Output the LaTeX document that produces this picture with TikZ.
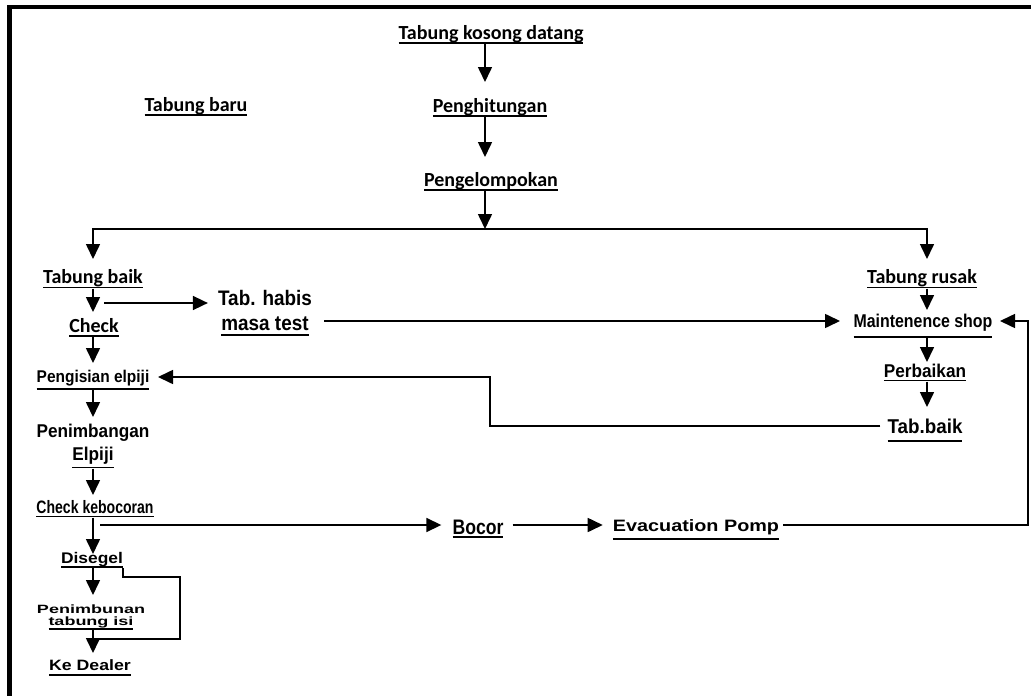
\documentclass[tikz,border=0pt]{standalone}
\usepackage{fontspec}
\setmainfont{Liberation Sans}
\newfontfamily\calb{Carlito}
\usetikzlibrary{arrows.meta,calc}
\newcommand\ul[2][4]{\leavevmode\setbox0\hbox{#2}\rlap{\rule[\dimexpr-#1pt-0.9pt\relax]{\wd0}{1.8pt}}\box0}
\newcommand\cf[1]{\calb\bfseries\fontsize{#1}{#1}\selectfont}
\newcommand\af[3]{\fontsize{#1}{#2}\selectfont\bfseries\addfontfeature{FakeStretch=#3}}
\begin{document}
\begin{tikzpicture}[x=1pt,y=-1pt,
  lab/.style={inner sep=0pt,anchor=base},
  mlab/.style={inner sep=0pt,anchor=base,align=center},
  ln/.style={line width=1.6pt},
  arr/.style={line width=1.6pt,-{Triangle[length=15pt,width=14pt]}}]
\useasboundingbox (0,0) rectangle (1031,696);
% frame
\draw[line width=4.6pt] (9.5,696) -- (9.5,7) -- (1031,7);
% nodes
\node[lab,font=\cf{20}] (tkd) at (491,39) {\ul{Tabung kosong datang}};
\node[lab,font=\cf{20}] (pgh) at (490,112) {\ul{Penghitungan}};
\node[lab,font=\cf{20}] (pgk) at (491,186) {\ul{Pengelompokan}};
\node[lab,font=\cf{20}] (tbr) at (196,111) {\ul{Tabung baru}};
\node[lab,font=\cf{20}] (tbk) at (93,283) {\ul[4.5]{Tabung baik}};
\node[lab,font=\cf{20}] (trs) at (922,283) {\ul[4.5]{Tabung rusak}};
\node[lab,font=\cf{20}] (chk) at (94,332) {\ul{Check}};
\node[mlab,font=\af{21}{25}{0.9}] (thm) at (265,330) {Tab. habis\\\ul[5]{masa test}};
\node[lab,font=\af{18.5}{18.5}{0.86}] (mts) at (923,327) {\ul[10]{Maintenence shop}};
\node[lab,font=\af{18.5}{18.5}{0.93}] (prb) at (925,377) {\ul[3.5]{Perbaikan}};
\node[lab,font=\af{20}{20}{0.94}] (tbb) at (925,433) {\ul[8]{Tab.baik}};
\node[lab,font=\af{17}{17}{0.91}] (pge) at (93,382) {\ul[7]{Pengisian elpiji}};
\node[mlab,font=\af{18.5}{23}{0.93}] (pnb) at (93,460) {Penimbangan\\\ul[7.5]{Elpiji}};
\node[lab,font=\af{18}{18}{0.78}] (ckb) at (95,513) {\ul[3.5]{Check kebocoran}};
\node[lab,font=\af{15.4}{15.4}{1.13}] (dsg) at (92,563) {\ul[4]{Disegel}};
\node[mlab,font=\af{12}{12}{1.5}] (pnt) at (91,625) {Penimbunan\\\ul[4.3]{tabung isi}};
\node[lab,font=\af{15}{15}{1.18}] (kdl) at (90,670) {\ul[5]{Ke Dealer}};
\node[lab,font=\af{21}{21}{0.84}] (bcr) at (478,534) {\ul[3]{Bocor}};
\node[lab,font=\af{16.5}{16.5}{1.2}] (evp) at (696,531) {\ul[8]{Evacuation Pomp}};
% coordinates
\coordinate (t1) at (485,82);
\coordinate (t2) at (485,157);
\coordinate (j) at (485,229);
\coordinate (tl) at (93,259);
\coordinate (tr) at (927,259);
\coordinate (t5) at (93,312);
\coordinate (s6) at (104,303);
\coordinate (t7) at (93,363);
\coordinate (t8) at (93,417);
\coordinate (t9) at (93,495);
\coordinate (t10) at (93,554);
\coordinate (s11) at (100,525);
\coordinate (rc) at (1028,525);
\coordinate (t13) at (1000,321);
\coordinate (t14) at (840,321);
\coordinate (t15) at (927,310);
\coordinate (t16) at (927,362);
\coordinate (t17) at (927,407);
\coordinate (bl) at (490,426);
\coordinate (t18) at (158,377);
\coordinate (t19) at (93,595);
\coordinate (lp1) at (180,577);
\coordinate (lp2) at (93,639);
\coordinate (t20) at (93,653);
% connectors
\draw[arr] (tkd.south -| t1) -- (t1);
\draw[arr] (pgh.south -| t2) -- (t2);
\draw[arr] (pgk.south -| j) -- (j);
\draw[arr] (j) -| (tl);
\draw[arr] (j) -| (tr);
\draw[arr] (tbk.south -| t5) -- (t5);
\draw[arr,shorten >=10pt] (s6) -- (thm.west |- s6);
\draw[arr] (chk.south -| t7) -- (t7);
\draw[arr] (pge.south -| t8) -- (t8);
\draw[arr] (pnb.south -| t9) -- (t9);
\draw[arr] (ckb.south -| t10) -- (t10);
\draw[arr,shorten >=11pt] (s11) -- (bcr.west |- s11);
\draw[arr,shorten <=9pt,shorten >=10pt] (bcr.east |- s11) -- (evp.west |- s11);
\draw[arr,shorten <=4pt] (evp.east |- rc) -- (rc) |- (t13);
\draw[arr,shorten <=12pt] (thm.east |- t14) -- (t14);
\draw[arr] (trs.south -| t15) -- (t15);
\draw[arr] (mts.south -| t16) -- (t16);
\draw[arr] (prb.south -| t17) -- (t17);
\draw[arr,shorten <=7pt] (tbb.west |- bl) -- (bl) |- (t18);
\draw[arr] (dsg.south -| t19) -- (t19);
\draw[ln] (dsg.south east) |- (lp1) |- (lp2);
\draw[arr] (pnt.south -| t20) -- (t20);
\end{tikzpicture}
\end{document}
